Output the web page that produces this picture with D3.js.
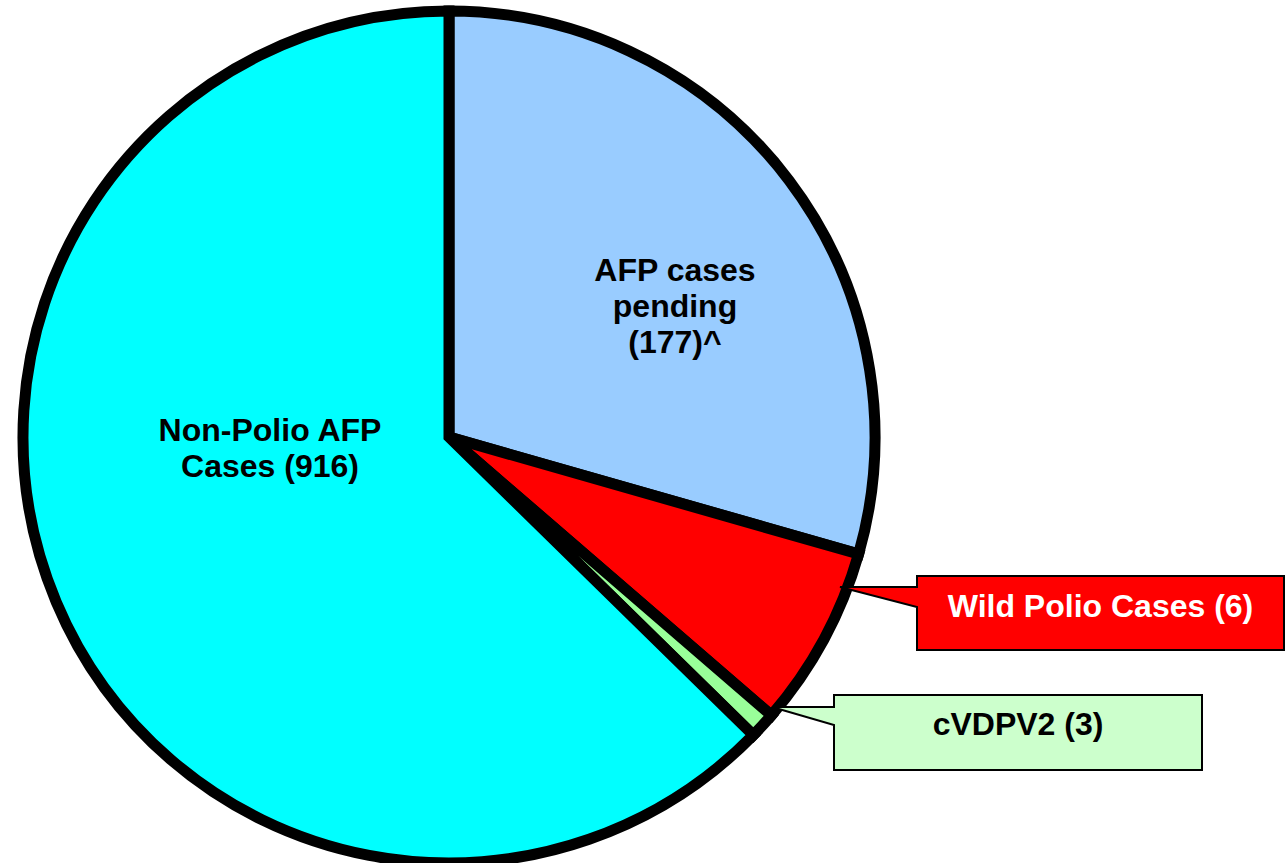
<!DOCTYPE html>
<html>
<head>
<meta charset="utf-8">
<script src="https://cdn.jsdelivr.net/npm/d3@7"></script>
<style>
  html, body { margin: 0; padding: 0; background: #fff; }
</style>
</head>
<body>
<div id="pieid"></div>
<script>
// slice names and the case counts printed in the labels
var categories = ["AFP cases pending", "Wild Polio Cases", "cVDPV2", "Non-Polio AFP Cases"];
var caseCounts = [177, 6, 3, 916];
// share of the circle each slice takes in the picture (percent)
var sliceShares = [29.4, 6.9, 1.0, 62.6];
var sliceColors = ["#99ccff", "#ff0000", "#99ff99", "#00ffff"];

var width = 1286, height = 863;
var cx = 449, cy = 437, radius = 426;

var data = categories.map(function (c, i) {
    return {name: c, count: caseCounts[i], share: sliceShares[i], color: sliceColors[i]};
});

var svg = d3.select("#pieid")
    .append("svg")
    .attr("width", width)
    .attr("height", height);

var g = svg.append("g")
    .attr("transform", "translate(" + cx + "," + cy + ")");

var pie = d3.pie()
    .sort(null)
    .value(function (d) { return d.share; });

var arc = d3.arc()
    .innerRadius(0)
    .outerRadius(radius);

g.selectAll("path")
    .data(pie(data))
    .enter().append("path")
    .attr("d", arc)
    .attr("fill", function (d) { return d.data.color; })
    .attr("stroke", "#000")
    .attr("stroke-width", 11)
    .attr("stroke-linejoin", "miter");

var font = "'Liberation Sans', Arial, sans-serif";

// labels inside the slices
var inside = [
    {i: 0, x: 675, y: 281, lines: ["AFP cases", "pending", "(" + caseCounts[0] + ")^"]},
    {i: 3, x: 270, y: 441, lines: ["Non-Polio AFP", "Cases (" + caseCounts[3] + ")"]}
];

inside.forEach(function (lab) {
    var t = svg.append("text")
        .attr("x", lab.x)
        .attr("y", lab.y)
        .attr("text-anchor", "middle")
        .attr("font-family", font)
        .attr("font-weight", "bold")
        .attr("font-size", "32px")
        .attr("fill", "#000");
    lab.lines.forEach(function (line, k) {
        t.append("tspan")
            .attr("x", lab.x)
            .attr("dy", k === 0 ? 0 : 36)
            .text(line);
    });
});

// callout boxes for the two small slices
var callouts = [
    {i: 1, box: [917, 576, 1284, 650], tip: [840, 587], join: [587, 607],
        fill: "#ff0000", text: "#ffffff", base: 617},
    {i: 2, box: [834, 695, 1202, 770], tip: [772, 707], join: [707, 725],
        fill: "#ccffcc", text: "#000000", base: 735}
];

callouts.forEach(function (c) {
    var b = c.box;
    var p = d3.path();
    p.moveTo(b[0], b[1]);
    p.lineTo(b[2], b[1]);
    p.lineTo(b[2], b[3]);
    p.lineTo(b[0], b[3]);
    p.lineTo(b[0], c.join[1]);
    p.lineTo(c.tip[0], c.tip[1]);
    p.lineTo(b[0], c.join[0]);
    p.closePath();
    svg.append("path")
        .attr("d", p.toString())
        .attr("fill", c.fill)
        .attr("stroke", "#000")
        .attr("stroke-width", 2)
        .attr("stroke-linejoin", "miter");
    svg.append("text")
        .attr("x", (b[0] + b[2]) / 2)
        .attr("y", c.base)
        .attr("text-anchor", "middle")
        .attr("font-family", font)
        .attr("font-weight", "bold")
        .attr("font-size", "32px")
        .attr("fill", c.text)
        .text(categories[c.i].replace("Cases", "Cases") + " (" + caseCounts[c.i] + ")");
});
</script>
</body>
</html>
